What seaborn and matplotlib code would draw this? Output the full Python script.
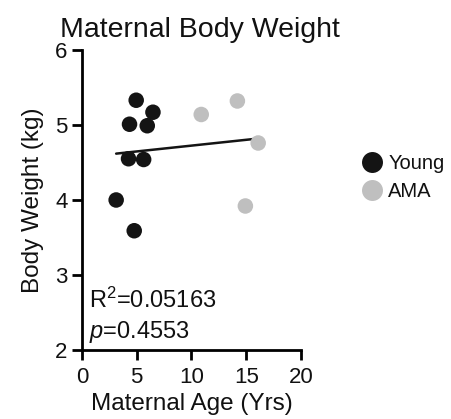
import numpy as np
import pandas as pd
import matplotlib
matplotlib.use('Agg')
import matplotlib.pyplot as plt
import seaborn as sns

# values
young_age = [4.95, 6.48, 4.34, 5.96, 4.25, 5.63, 3.12, 4.77]
young_weight = [5.33, 5.17, 5.01, 4.99, 4.55, 4.54, 4.00, 3.59]
ama_age = [10.89, 14.19, 16.09, 14.92]
ama_weight = [5.14, 5.32, 4.76, 3.92]
groups = ['Young', 'AMA']
group_colors = ['#141414', '#bfbfbf']
x_ticks = [0, 5, 10, 15, 20]
y_ticks = [2, 3, 4, 5, 6]
r_squared = '0.05163'
p_value = '0.4553'

df = pd.DataFrame({
    'age': young_age + ama_age,
    'weight': young_weight + ama_weight,
    'group': ['Young'] * len(young_age) + ['AMA'] * len(ama_age),
})

sns.set_style('ticks')
plt.rcParams['font.family'] = ['Liberation Sans', 'DejaVu Sans']
plt.rcParams['mathtext.fontset'] = 'custom'
plt.rcParams['mathtext.rm'] = 'Liberation Sans'
plt.rcParams['mathtext.it'] = 'Liberation Sans:italic'
plt.rcParams['text.color'] = '#111111'
plt.rcParams['axes.labelcolor'] = '#111111'
plt.rcParams['xtick.color'] = 'black'
plt.rcParams['ytick.color'] = 'black'

fig = plt.figure(figsize=(4.51, 4.19), dpi=100)
ax = fig.add_axes([0.1818, 0.1647, 0.4856, 0.716])

sns.scatterplot(data=df, x='age', y='weight', hue='group', hue_order=groups,
                palette=group_colors, s=125, edgecolor='none', ax=ax, zorder=3)
# linear fit over both groups
sns.regplot(data=df, x='age', y='weight', scatter=False, ci=None, truncate=True,
            color='#141414', line_kws={'linewidth': 1.8}, ax=ax)

ax.set_xlim(0, 20)
ax.set_ylim(2, 6)
ax.set_xticks(x_ticks)
ax.set_yticks(y_ticks)
ax.tick_params(axis='both', labelsize=16, length=7.5, width=2, labelcolor='#111111')
ax.tick_params(axis='x', pad=5)
ax.tick_params(axis='y', pad=3)
for side in ['left', 'bottom']:
    ax.spines[side].set_linewidth(2)
    ax.spines[side].set_color('black')
sns.despine(ax=ax)

ax.set_xlabel('Maternal Age (Yrs)', fontsize=17.5, labelpad=3)
ax.set_ylabel('Body Weight (kg)', fontsize=17.5, labelpad=8)
ax.set_title('Maternal Body Weight', fontsize=20.5, x=0.54, pad=9)

ax.text(0.65, 2.56, 'R$^2$=' + r_squared, fontsize=17)
ax.text(0.65, 2.16, '$p$=' + p_value, fontsize=17)

leg = ax.legend(loc='center left', bbox_to_anchor=(1.187, 0.575), frameon=False,
                fontsize=14.5, handlelength=1.2, handletextpad=0.2,
                labelspacing=0.45, markerscale=1.35)
for h in leg.legend_handles:
    h.set_markeredgecolor('none')

fig.savefig('out.png', dpi=100)
